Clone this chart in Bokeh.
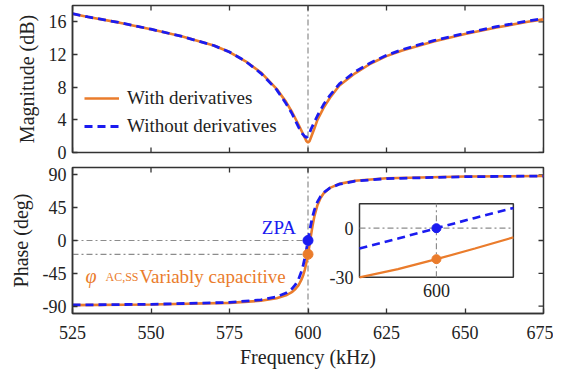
import math
from bokeh.plotting import figure
from bokeh.models import Range1d, Span, Legend, LegendItem, FixedTicker
from bokeh.embed import file_html
from bokeh.resources import INLINE
from bokeh.core.properties import value

# ---------------- data ----------------
freq_mag = [525, 530, 540, 550, 560, 570, 575, 580, 585, 590, 593, 595, 597, 598,
            599, 599.5, 600, 600.5, 601, 602, 603, 605, 607, 610, 615, 620, 625,
            630, 640, 650, 660, 670, 675]
mag_with = [17.0, 16.6, 15.9, 15.1, 14.2, 13.1, 12.3, 11.2, 9.8, 7.8, 6.2, 4.9, 3.4, 2.6,
            1.8, 1.4, 1.2, 1.4, 1.9, 2.9, 4.0, 5.5, 6.7, 8.2, 9.7, 10.9, 11.8,
            12.5, 13.6, 14.5, 15.3, 16.0, 16.3]
mag_without = [17.0, 16.6, 15.9, 15.1, 14.2, 13.1, 12.3, 11.2, 9.7, 7.7, 6.0, 4.7, 3.1, 2.4,
               1.95, 1.85, 2.0, 2.4, 2.9, 3.7, 4.5, 5.9, 7.0, 8.4, 9.9, 11.0, 11.9,
               12.6, 13.7, 14.6, 15.4, 16.1, 16.4]

freq_ph = [525, 550, 575, 585, 590, 593, 595, 596, 597, 598, 598.5, 599, 599.5, 599.75,
           600, 600.25, 600.5, 601, 601.5, 602, 603, 604, 605, 607, 610, 615, 625, 650, 675]
ph_with = [-88.5, -87.7, -85.5, -82.6, -79.2, -75.1, -70.3, -66.5, -61.1, -52.9, -47.2, -39.8,
           -30.0, -25.0, -18.9, -12.4, -5.6, 8.4, 21.4, 32.5, 48.4, 58.3, 64.6, 72.1, 77.6,
           81.9, 85.2, 87.6, 88.4]
ph_without = [-88.3, -87.4, -84.8, -81.4, -77.2, -72.0, -65.6, -60.4, -52.9, -41.3, -33.4, -23.7,
              -12.4, -6.3, 0.0, 6.3, 12.4, 23.7, 33.4, 41.3, 52.9, 60.4, 65.6, 72.0, 77.2,
              81.4, 84.8, 87.4, 88.3]

x_ticks = [525, 550, 575, 600, 625, 650, 675]
mag_ticks = [0, 4, 8, 12, 16]
ph_ticks = [-90, -45, 0, 45, 90]
zpa_freq = 600
inset_x = (599.5, 600.5)
inset_y = (-30, 15)
inset_yticks = [0, -30]
inset_ylabels = ["0", "-30"]
inset_xticks = [600]
inset_xlabels = ["600"]

# ---------------- style ----------------
FONT = "Liberation Serif"
ORANGE = "#EA7C2C"
BLUE = "#1B1BF0"
GRAY = "#8C8C8C"
DARK = "#333333"
TXT = "#222222"
DASHDOT = "6 3 2 3"


def style_axis(ax, ticks):
    ax.ticker = FixedTicker(ticks=ticks)
    ax.major_tick_in = 5
    ax.major_tick_out = 0
    ax.minor_tick_in = 0
    ax.minor_tick_out = 0
    ax.major_tick_line_color = DARK
    ax.major_tick_line_width = 1.3
    ax.axis_line_color = DARK
    ax.axis_line_width = 1.5
    ax.major_label_text_font = FONT
    ax.major_label_text_font_size = "18px"
    ax.major_label_text_color = TXT
    ax.major_label_standoff = 6
    ax.major_label_overrides = {t: str(t) for t in ticks if t < 0}
    ax.axis_label_text_font = FONT
    ax.axis_label_text_font_style = "normal"
    ax.axis_label_text_color = TXT
    ax.axis_label_text_font_size = "20px"


def mirror_ticks(p, xr, yr, yticks, bottom_too):
    # inward tick marks on the right / top (and bottom) frame edges
    p.scatter([xr[1]] * len(yticks), yticks, marker="dash", size=10,
              line_color=DARK, line_width=1.3)
    p.scatter(x_ticks, [yr[1]] * len(x_ticks), marker="dash", size=10, angle=math.pi / 2,
              line_color=DARK, line_width=1.3)
    if bottom_too:
        p.scatter(x_ticks, [yr[0]] * len(x_ticks), marker="dash", size=10, angle=math.pi / 2,
                  line_color=DARK, line_width=1.3)


def make_fig(fh, yr, yticks, ylabel, show_x, mbt, mbb):
    xr = (525, 675)
    p = figure(frame_width=471, frame_height=fh,
               x_range=Range1d(*xr), y_range=Range1d(*yr),
               output_backend="svg", toolbar_location=None,
               min_border_left=72, min_border_right=10,
               min_border_top=mbt, min_border_bottom=mbb)
    p.grid.visible = False
    p.outline_line_color = DARK
    p.outline_line_width = 1.5
    p.background_fill_color = "white"
    p.border_fill_color = "white"
    style_axis(p.yaxis[0], yticks)
    p.yaxis[0].axis_label = ylabel
    p.yaxis[0].axis_label_standoff = 8
    if show_x:
        style_axis(p.xaxis[0], x_ticks)
        p.xaxis[0].axis_label = "Frequency (kHz)"
        p.xaxis[0].axis_label_standoff = 4
        p.xaxis[0].major_label_standoff = 12
    else:
        p.xaxis.visible = False
    mirror_ticks(p, xr, yr, yticks, not show_x)
    span = Span(location=zpa_freq, dimension="height", line_color=GRAY,
                line_dash=DASHDOT, line_width=1.2, level="underlay")
    p.add_layout(span)
    return p


# ---------------- magnitude ----------------
p1 = make_fig(147, (0, 18), mag_ticks, "Magnitude (dB)", False, 5, 11)
r_w = p1.line(freq_mag, mag_with, line_color=ORANGE, line_width=2.6)
r_wo = p1.line(freq_mag, mag_without, line_color=BLUE, line_width=2.8, line_dash="8 5")
legend = Legend(items=[LegendItem(label="With derivatives", renderers=[r_w]),
                       LegendItem(label="Without derivatives", renderers=[r_wo])],
                location=(12, 15), border_line_color=None, background_fill_alpha=0,
                label_text_font=FONT, label_text_font_size="19px", label_text_color=TXT,
                glyph_width=35, glyph_height=20, label_standoff=8, padding=4, spacing=6)
p1.add_layout(legend)

# ---------------- phase ----------------
p2 = make_fig(146, (-100, 100), ph_ticks, "Phase (deg)", True, 4, 0)
i0 = freq_ph.index(zpa_freq)
y_zpa = ph_without[i0]
y_cap = ph_with[i0]

p2.segment(x0=[525, 525], x1=[zpa_freq, zpa_freq], y0=[y_zpa, y_cap], y1=[y_zpa, y_cap],
           line_color=GRAY, line_dash=DASHDOT, line_width=1.2)
p2.line(freq_ph, ph_with, line_color=ORANGE, line_width=2.6)
p2.line(freq_ph, ph_without, line_color=BLUE, line_width=2.8, line_dash="8 5")
p2.scatter([zpa_freq, zpa_freq], [y_zpa, y_cap], size=10, color=[BLUE, ORANGE])

p2.text(x=[zpa_freq], y=[y_zpa], text=["ZPA"], x_offset=-12, y_offset=-13,
        text_align="right", text_baseline="middle", text_font=value(FONT),
        text_font_size="19px", text_color=BLUE)
p2.text(x=[525], y=[y_cap], text=["φ"], x_offset=13, y_offset=22,
        text_align="left", text_baseline="alphabetic", text_font=value(FONT),
        text_font_style="italic", text_font_size="20px", text_color=ORANGE)
p2.text(x=[525], y=[y_cap], text=["AC,SS"], x_offset=33, y_offset=23,
        text_align="left", text_baseline="alphabetic", text_font=value(FONT),
        text_font_size="12px", text_color=ORANGE)
p2.text(x=[525], y=[y_cap], text=["Variably capacitive"], x_offset=67, y_offset=22,
        text_align="left", text_baseline="alphabetic", text_font=value(FONT),
        text_font_size="19px", text_color=ORANGE)

# ---------------- inset (sub-coordinates) ----------------
sub = p2.subplot(x_source=Range1d(*inset_x), y_source=Range1d(*inset_y),
                 x_target=Range1d(616.4, 665.4), y_target=Range1d(-50.5, 50.5))
sub.quad(left=[inset_x[0]], right=[inset_x[1]], bottom=[inset_y[0]], top=[inset_y[1]],
         fill_color="white", line_color=DARK, line_width=1.5)
sub.segment(x0=[inset_x[0]], x1=[inset_x[1]], y0=[inset_yticks[0]], y1=[inset_yticks[0]],
            line_color=GRAY, line_dash=DASHDOT, line_width=1.2)
sub.segment(x0=inset_xticks, x1=inset_xticks, y0=[inset_y[0]], y1=[inset_y[1]],
            line_color=GRAY, line_dash=DASHDOT, line_width=1.2)
ins_f = [f for f in freq_ph if inset_x[0] <= f <= inset_x[1]]
ins_w = [ph_with[freq_ph.index(f)] for f in ins_f]
ins_wo = [ph_without[freq_ph.index(f)] for f in ins_f]
sub.line(ins_f, ins_w, line_color=ORANGE, line_width=2.2)
sub.line(ins_f, ins_wo, line_color=BLUE, line_width=2.6, line_dash="8 5")
sub.scatter([zpa_freq, zpa_freq], [y_zpa, y_cap], size=9, color=[BLUE, ORANGE])
sub.text(x=[inset_x[0]] * len(inset_yticks), y=inset_yticks, text=inset_ylabels,
         x_offset=-6, text_align="right", text_baseline="middle",
         text_font=value(FONT), text_font_size="18px", text_color=TXT)
sub.text(x=inset_xticks, y=[inset_y[0]] * len(inset_xticks), text=inset_xlabels,
         y_offset=7, text_align="center", text_baseline="top",
         text_font=value(FONT), text_font_size="18px", text_color=TXT)

# two separate roots, stacked on the page
open("out.html", "w").write(file_html([p1, p2], INLINE))
